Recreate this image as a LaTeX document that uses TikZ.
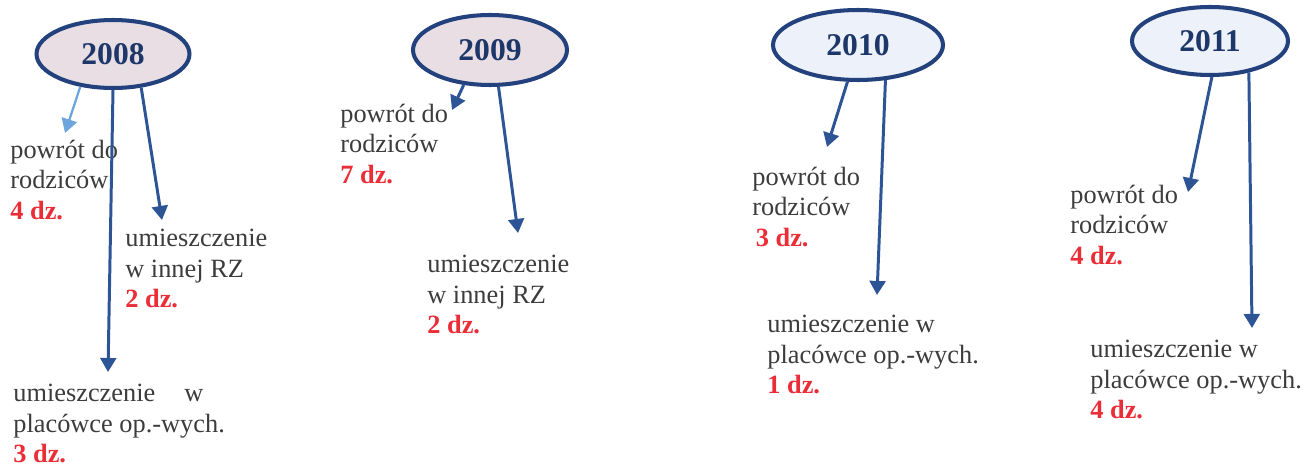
\documentclass[tikz,border=0pt]{standalone}
\usepackage{fontspec}
\setmainfont{Liberation Serif}
\usepackage{xcolor}
\usetikzlibrary{shapes.geometric,arrows.meta}

\definecolor{yearline}{RGB}{35,65,125}
\definecolor{yeartext}{RGB}{30,55,105}
\definecolor{pinkfill}{RGB}{232,222,228}
\definecolor{bluefill}{RGB}{236,241,250}
\definecolor{arrowblue}{RGB}{45,85,150}
\definecolor{lightarrow}{RGB}{110,165,220}
\definecolor{txtgray}{RGB}{60,60,60}
\definecolor{dzred}{RGB}{235,45,55}

\newcommand{\ile}[1]{\textcolor{dzred}{\textbf{#1}}}

\tikzset{
  year/.style={ellipse, draw=yearline, line width=2.3pt, minimum width=3.06cm,
    minimum height=1.36cm, inner sep=0pt, text=yeartext,
    font=\fontsize{18}{20}\selectfont\bfseries},
  lbl/.style={anchor=north west, align=left, inner sep=0pt, text=txtgray,
    font=\fontsize{15}{17.2}\selectfont},
  arr/.style={draw=arrowblue, line width=1.7pt, -{Triangle[width=9pt,length=8pt]}}
}

\begin{document}
\begin{tikzpicture}[x=0.02cm, y=-0.02cm]
        \useasboundingbox (0,0) rectangle (1304,466);

        % Years
        \node[year, fill=pinkfill] (y2008) at (113,54) {2008};
        \node[year, fill=pinkfill, minimum width=3.08cm, minimum height=1.4cm] (y2009) at (490,50) {2009};
        \node[year, fill=bluefill, minimum width=3.4cm, minimum height=1.4cm] (y2010) at (858,45) {2010};
        \node[year, fill=bluefill, minimum width=3.12cm] (y2011) at (1210,41) {2011};

        % 2008
        \node[lbl] (p2008) at (10,140) {powrót do\\rodziców\\\ile{4 dz.}};
        \node[lbl] (r2008) at (125,229) {umieszczenie\\w innej RZ\\\ile{2 dz.}};
        \node[lbl] (w2008) at (13,384) {umieszczenie\hspace{1.1em}w\\placówce op.-wych.\\\ile{3 dz.}};
        \coordinate (a2008p) at (65,133);
        \coordinate (a2008r) at (162,220);
        \coordinate (a2008w) at (108,372);
        \draw[arr, draw=lightarrow, line width=1.3pt] (y2008.225) -- (a2008p);
        \draw[arr] (y2008.south) -- (a2008w);
        \draw[arr] (y2008.310) -- (a2008r);

        % 2009
        \node[lbl] (p2009) at (340,104) {powrót do\\rodziców\\\ile{7 dz.}};
        \node[lbl] (r2009) at (427,255) {umieszczenie\\w innej RZ\\\ile{2 dz.}};
        \coordinate (a2009p) at (452,110);
        \coordinate (a2009r) at (518,233);
        \draw[arr] (y2009.233) -- (a2009p);
        \draw[arr] (y2009.283) -- (a2009r);

        % 2010
        \node[lbl] (p2010) at (752,167) {powrót do\\rodziców\\\hspace{2pt}\ile{3 dz.}};
        \node[lbl] (w2010) at (767,315) {umieszczenie w\\placówce op.-wych.\\\ile{1 dz.}};
        \coordinate (a2010p) at (827,147);
        \coordinate (a2010w) at (877,295);
        \draw[arr] (y2010.254) -- (a2010p);
        \draw[arr] (y2010.308) -- (a2010w);

        % 2011
        \node[lbl] (p2011) at (1070,185) {powrót do\\rodziców\\\ile{4 dz.}};
        \node[lbl] (w2011) at (1090,340) {umieszczenie w\\placówce op.-wych.\\\ile{4 dz.}};
        \coordinate (a2011p) at (1188,192);
        \coordinate (a2011w) at (1252,328);
        \draw[arr] (y2011.273) -- (a2011p);
        \draw[arr] (y2011.321) -- (a2011w);
    \end{tikzpicture}
\end{document}
